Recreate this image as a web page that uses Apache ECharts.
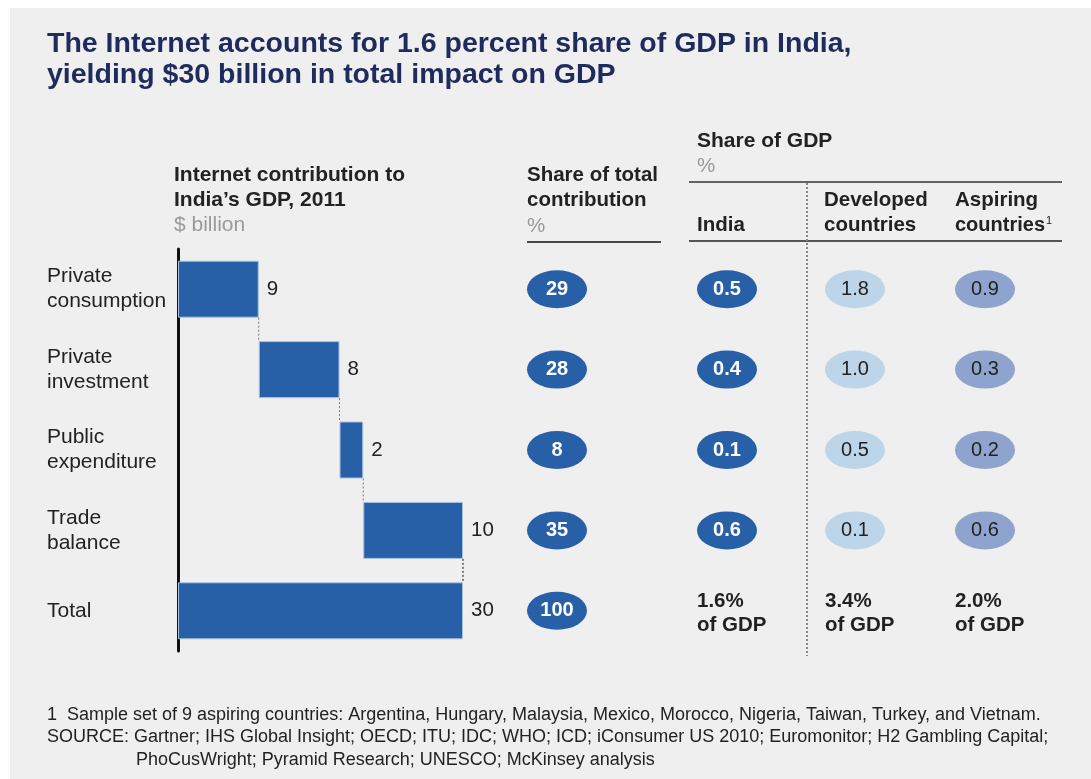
<!DOCTYPE html>
<html>
<head>
<meta charset="utf-8">
<script src="https://cdn.jsdelivr.net/npm/echarts@6/dist/echarts.min.js"></script>
<style>
  html, body { margin: 0; padding: 0; background: #fff; }
  #chart { width: 1091px; height: 779px; }
</style>
</head>
<body>
<div id="chart"></div>
<script>
// data
var categories = ['Private\nconsumption', 'Private\ninvestment', 'Public\nexpenditure', 'Trade\nbalance', 'Total']
var contribution = [8.5, 8.5, 2.5, 10.5, 30] // bar lengths, $ billion
var contributionLabels = ['9', '8', '2', '10', '30']
var shareOfTotal = [29, 28, 8, 35, 100]
var gdpIndia = [0.5, 0.4, 0.1, 0.6]
var gdpDeveloped = [1.8, 1.0, 0.5, 0.1]
var gdpAspiring = [0.9, 0.3, 0.2, 0.6]
var gdpTotals = [1.6, 3.4, 2.0]

var FONT = '"Liberation Sans", Arial, Helvetica, sans-serif'
var DARK = '#2860a8'
var TEXT = '#222'

// waterfall bases: steps start where the previous one ended, total starts at 0
var bases = []
var run = 0
for (var i = 0; i < contribution.length - 1; i++) {
  bases.push(run)
  run += contribution[i]
}
bases.push(0)

var connectors = []
for (var j = 0; j < contribution.length - 1; j++) {
  connectors.push([bases[j] + contribution[j], j])
}

var GRID_TOP = 249
var GRID_H = 402
var BAR_W = 57

// one small grid per ellipse column
var columns = [
  { cx: 557, values: shareOfTotal, color: DARK, txt: '#fff', bold: true, digits: 0 },
  { cx: 727, values: gdpIndia, color: DARK, txt: '#fff', bold: true, digits: 1, total: gdpTotals[0] },
  { cx: 855, values: gdpDeveloped, color: '#bdd5e9', txt: TEXT, bold: false, digits: 1, total: gdpTotals[1] },
  { cx: 985, values: gdpAspiring, color: '#8ea4cf', txt: TEXT, bold: false, digits: 1, total: gdpTotals[2] }
]

var grids = [{ left: 178, top: GRID_TOP, width: 380, height: GRID_H }]
var xAxes = [{ type: 'value', gridIndex: 0, min: 0, max: 40, show: false }]
var yAxes = [{
  type: 'category', gridIndex: 0, inverse: true, data: categories,
  axisLine: { lineStyle: { color: '#111', width: 3 } },
  axisTick: { show: false },
  splitLine: { show: false },
  axisLabel: { align: 'left', margin: 131, fontSize: 21, lineHeight: 25, color: TEXT, fontFamily: FONT }
}]

var series = [
  {
    type: 'bar', stack: 'w', data: bases, barWidth: BAR_W, silent: true,
    itemStyle: { color: 'transparent' }
  },
  {
    type: 'bar', stack: 'w', data: contribution, barWidth: BAR_W,
    itemStyle: { color: DARK, borderColor: '#a8c0e0', borderWidth: 1 },
    label: {
      show: true, position: 'right', distance: 8,
      fontSize: 20.5, color: TEXT, fontFamily: FONT,
      formatter: function (p) { return contributionLabels[p.dataIndex] }
    }
  },
  {
    type: 'custom', data: connectors, silent: true, z: 3,
    renderItem: function (params, api) {
      var pt = api.coord([api.value(0), api.value(1)])
      var band = api.size([0, 1])[1]
      var last = params.dataIndex === connectors.length - 1
      return {
        type: 'line',
        shape: { x1: pt[0], y1: pt[1] + BAR_W / 2, x2: pt[0], y2: pt[1] + band - BAR_W / 2 },
        style: { stroke: last ? '#111' : '#777', lineWidth: 1, lineDash: [2, 2] }
      }
    }
  }
]

columns.forEach(function (col, c) {
  var gi = c + 1
  grids.push({ left: col.cx - 40, width: 80, top: GRID_TOP, height: GRID_H })
  xAxes.push({ type: 'category', gridIndex: gi, data: ['v'], show: false })
  yAxes.push({ type: 'category', gridIndex: gi, inverse: true, data: categories, show: false })
  series.push({
    type: 'scatter', xAxisIndex: gi, yAxisIndex: gi, silent: true,
    symbol: 'circle', symbolSize: [60, 38],
    data: col.values.map(function (v, r) { return [0, r, v] }),
    itemStyle: { color: col.color, opacity: 1 },
    label: {
      show: true, position: 'inside', fontSize: 20, fontFamily: FONT,
      fontWeight: col.bold ? 'bold' : 'normal', color: col.txt,
      formatter: function (p) { return p.value[2].toFixed(col.digits) }
    }
  })
  if (col.total !== undefined) {
    series.push({
      type: 'scatter', xAxisIndex: gi, yAxisIndex: gi, silent: true,
      symbolSize: 1, itemStyle: { color: 'transparent', opacity: 1 },
      data: [[0, 4, col.total]],
      label: {
        show: true, position: 'inside', align: 'left', offset: [-30, 3],
        fontSize: 20.5, lineHeight: 24, fontWeight: 'bold', color: TEXT, fontFamily: FONT,
        formatter: function (p) { return p.value[2].toFixed(1) + '%\nof GDP' }
      }
    })
  }
})

function txt(x, y, s, o) {
  o = o || {}
  return {
    type: 'text', x: x, y: y, silent: true,
    style: {
      text: s, fill: o.fill || TEXT, verticalAlign: 'middle',
      font: (o.bold ? 'bold ' : '') + (o.size || 20.5) + 'px ' + FONT,
      rich: o.rich
    }
  }
}
function line(x1, y1, x2, y2, color, w, dash) {
  return {
    type: 'line', silent: true,
    shape: { x1: x1, y1: y1, x2: x2, y2: y2 },
    style: { stroke: color, lineWidth: w, lineDash: dash }
  }
}

var graphics = [
  { type: 'rect', shape: { x: 0, y: 0, width: 1091, height: 8 }, style: { fill: '#fff' }, silent: true },
  { type: 'rect', shape: { x: 0, y: 0, width: 10, height: 779 }, style: { fill: '#fff' }, silent: true },
  txt(47, 44, 'The Internet accounts for 1.6 percent share of GDP in India,', { bold: true, size: 28.5, fill: '#1e2b5c' }),
  txt(47, 75, 'yielding $30 billion in total impact on GDP', { bold: true, size: 28.5, fill: '#1e2b5c' }),
  txt(174, 175, 'Internet contribution to', { bold: true, size: 21 }),
  txt(174, 200, 'India\u2019s GDP, 2011', { bold: true, size: 21 }),
  txt(174, 225, '$ billion', { fill: '#999', size: 21 }),
  txt(527, 175, 'Share of total', { bold: true }),
  txt(527, 200, 'contribution', { bold: true }),
  txt(527, 226, '%', { fill: '#999' }),
  txt(697, 141, 'Share of GDP', { bold: true, size: 21 }),
  txt(697, 166, '%', { fill: '#999' }),
  txt(697, 225, 'India', { bold: true }),
  txt(824, 200, 'Developed', { bold: true }),
  txt(824, 225, 'countries', { bold: true }),
  txt(955, 200, 'Aspiring', { bold: true }),
  txt(955, 225, 'countries{s|1}', {
    bold: true, size: 20,
    rich: { s: { fontSize: 11, fontFamily: FONT, fill: TEXT, verticalAlign: 'top', padding: [0, 0, 8, 1] } }
  }),
  line(527, 242, 661, 242, '#111', 1.5),
  line(689, 182, 1062, 182, '#333', 1.5),
  line(689, 241, 1062, 241, '#555', 2),
  line(807, 183, 807, 656, '#888', 2, [2, 2]),
  txt(47, 715, '1  Sample set of 9 aspiring countries: Argentina, Hungary, Malaysia, Mexico, Morocco, Nigeria, Taiwan, Turkey, and Vietnam.', { size: 18 }),
  txt(47, 737, 'SOURCE: Gartner; IHS Global Insight; OECD; ITU; IDC; WHO; ICD; iConsumer US 2010; Euromonitor; H2 Gambling Capital;', { size: 18 }),
  txt(136, 760, 'PhoCusWright; Pyramid Research; UNESCO; McKinsey analysis', { size: 18 })
]

var chart = echarts.init(document.getElementById('chart'), null, { renderer: 'canvas' })
chart.setOption({
  backgroundColor: '#efefef',
  animation: false,
  grid: grids,
  xAxis: xAxes,
  yAxis: yAxes,
  series: series,
  graphic: { elements: graphics }
})
</script>
</body>
</html>
